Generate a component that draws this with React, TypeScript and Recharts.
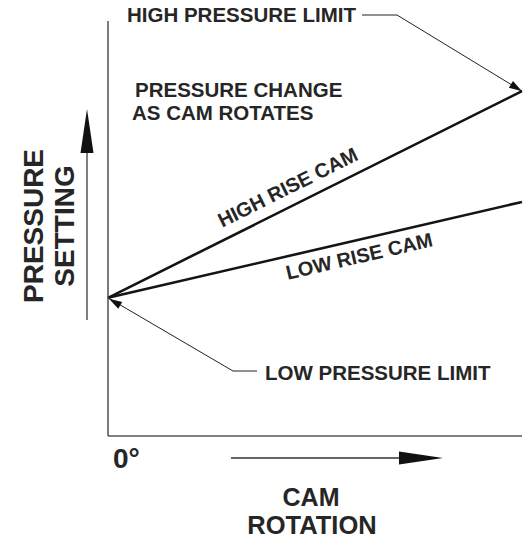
import { LineChart, Line, XAxis, YAxis, Customized } from 'recharts';

// cam rotation in degrees, pressure setting in % of the plot height
const CAM_ANGLE = [0, 360];
const HIGH_RISE = [33.3, 83.1];
const LOW_RISE = [33.3, 56.4];
const X_TICKS = [0];

const data = CAM_ANGLE.map((a, i) => ({ angle: a, high: HIGH_RISE[i], low: LOW_RISE[i] }));

const W = 530;
const H = 540;
const X_AXIS_H = 30;
const Y_AXIS_W = 20;
const M = { top: 21, right: 8, bottom: 104 - X_AXIS_H, left: 108 - Y_AXIS_W };
const X_DOMAIN = [0, 360];
const Y_DOMAIN = [0, 100];

const PLOT = { left: 108, right: W - M.right, top: M.top, bottom: H - 104 };

const FONT = '"Liberation Sans", Arial, Helvetica, sans-serif';
const INK = '#262626';

// same mapping the chart uses for its plot area
const px = (v: number) => PLOT.left + ((v - X_DOMAIN[0]) / (X_DOMAIN[1] - X_DOMAIN[0])) * (PLOT.right - PLOT.left);
const py = (v: number) => PLOT.bottom - ((v - Y_DOMAIN[0]) / (Y_DOMAIN[1] - Y_DOMAIN[0])) * (PLOT.bottom - PLOT.top);

const Head = ({ fx, fy, tx, ty, len, half }: any) => {
  const dx = tx - fx;
  const dy = ty - fy;
  const l = Math.hypot(dx, dy);
  const ux = dx / l;
  const uy = dy / l;
  const bx = tx - ux * len;
  const by = ty - uy * len;
  const pts = `${tx},${ty} ${bx - uy * half},${by + ux * half} ${bx + uy * half},${by - ux * half}`;
  return <polygon points={pts} fill="#111" />;
};

// text placed along a series line: t = fraction along, d = perpendicular offset (+ above)
const alongLine = (vals: number[], t: number, d: number) => {
  const x0 = px(CAM_ANGLE[0]);
  const y0 = py(vals[0]);
  const x1 = px(CAM_ANGLE[1]);
  const y1 = py(vals[1]);
  const dx = x1 - x0;
  const dy = y1 - y0;
  const l = Math.hypot(dx, dy);
  const ux = dx / l;
  const uy = dy / l;
  return {
    x: x0 + dx * t + uy * d,
    y: y0 + dy * t - ux * d,
    a: (Math.atan2(dy, dx) * 180) / Math.PI,
  };
};

const Annotations = () => {
  const hiTip = { x: px(CAM_ANGLE[1]), y: py(HIGH_RISE[1]) };
  const loTip = { x: px(CAM_ANGLE[0]), y: py(LOW_RISE[0]) };
  const hi = alongLine(HIGH_RISE, 0.454, 11.6);
  const lo = alongLine(LOW_RISE, 0.598, -23);
  const txt = { fontFamily: FONT, fontWeight: 700, fill: INK } as const;
  return (
    <g>
      <text x={127} y={22} fontSize={20.5} {...txt}>HIGH PRESSURE LIMIT</text>
      <polyline points={`362,15 397,15 ${hiTip.x},${hiTip.y}`} fill="none" stroke="#222" strokeWidth={1} />
      <Head fx={397} fy={15} tx={hiTip.x} ty={hiTip.y} len={13} half={4} />

      <text x={135} y={97} fontSize={20.5} {...txt}>PRESSURE CHANGE</text>
      <text x={132} y={120} fontSize={20.5} {...txt}>AS CAM ROTATES</text>

      <text x={hi.x} y={hi.y} fontSize={20} textAnchor="middle" transform={`rotate(${hi.a} ${hi.x} ${hi.y})`} {...txt}>HIGH RISE CAM</text>
      <text x={lo.x} y={lo.y} fontSize={20} textAnchor="middle" transform={`rotate(${lo.a} ${lo.x} ${lo.y})`} {...txt}>LOW RISE CAM</text>

      <polyline points={`257,371 233,371 ${loTip.x},${loTip.y}`} fill="none" stroke="#222" strokeWidth={1} />
      <Head fx={233} fy={371} tx={loTip.x + 1} ty={loTip.y + 1} len={13} half={4} />
      <text x={265} y={380} fontSize={20.5} {...txt}>LOW PRESSURE LIMIT</text>

      <line x1={87} y1={320} x2={87} y2={140} stroke="#555" strokeWidth={1.5} />
      <Head fx={87} fy={320} tx={87} ty={109} len={44} half={6.5} />
      <text x={43} y={226} fontSize={28} textAnchor="middle" transform="rotate(-90 43 226)" {...txt}>PRESSURE</text>
      <text x={74} y={226} fontSize={28} textAnchor="middle" transform="rotate(-90 74 226)" {...txt}>SETTING</text>

      <line x1={231} y1={458} x2={410} y2={458} stroke="#333" strokeWidth={1.5} />
      <Head fx={231} fy={458} tx={443} ty={458} len={44} half={6.5} />
      <text x={311} y={506} fontSize={25} textAnchor="middle" {...txt}>CAM</text>
      <text x={312} y={534} fontSize={25.5} textAnchor="middle" {...txt}>ROTATION</text>
    </g>
  );
};

const ZeroTick = ({ x }: any) => (
  <text x={x + 5} y={PLOT.bottom + 32} fontSize={28} fontFamily={FONT} fontWeight={700} fill={INK}>
    0°
  </text>
);

export default function App() {
  return (
    <div style={{ position: 'absolute', left: 0, top: 0, background: '#fff' }}>
      <LineChart width={W} height={H} data={data} margin={M}>
        <XAxis
          type="number"
          dataKey="angle"
          domain={X_DOMAIN}
          ticks={X_TICKS}
          tickLine={false}
          height={X_AXIS_H}
          tick={<ZeroTick />}
          axisLine={{ stroke: '#555', strokeWidth: 1.6 }}
        />
        <YAxis
          type="number"
          domain={Y_DOMAIN}
          width={Y_AXIS_W}
          tick={false}
          tickLine={false}
          axisLine={{ stroke: '#444', strokeWidth: 1.4 }}
        />
        <Line dataKey="high" type="linear" stroke="#141414" strokeWidth={2.6} dot={false} isAnimationActive={false} />
        <Line dataKey="low" type="linear" stroke="#141414" strokeWidth={2.6} dot={false} isAnimationActive={false} />
        <Customized component={<Annotations />} />
      </LineChart>
    </div>
  );
}
